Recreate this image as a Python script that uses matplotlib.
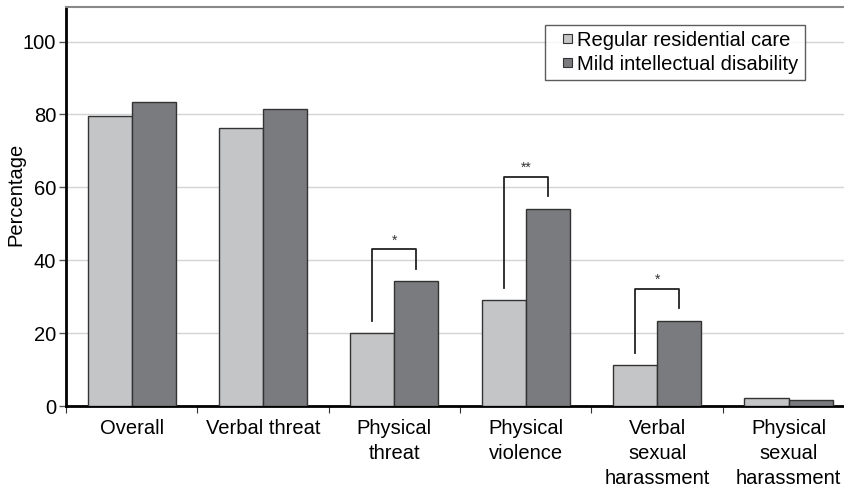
import numpy as np
import matplotlib
matplotlib.use("Agg")
import matplotlib.pyplot as plt
from matplotlib.ticker import FixedLocator
from matplotlib.patches import Rectangle
from matplotlib.legend_handler import HandlerPatch

plt.rcParams["font.family"] = ["Liberation Sans", "DejaVu Sans"]

# Datos
categories = ["Overall", "Verbal threat", "Physical\nthreat", "Physical\nviolence",
              "Verbal\nsexual\nharassment", "Physical\nsexual\nharassment"]
regular = [79.5, 76.2, 20.1, 29.1, 11.2, 2.2]
mild = [83.4, 81.6, 34.3, 54.2, 23.5, 1.6]
series_names = ["Regular residential care", "Mild intellectual disability"]
# comparaciones significativas: (indice, etiqueta)
signif = [(2, "*"), (3, "**"), (4, "*")]

light = "#c4c5c7"
dark = "#7a7b7f"
edge = "#333333"


def small_square(legend, orig_handle, xdescent, ydescent, width, height, fontsize):
    # cuadrado pequeño pegado al texto
    s = 0.45 * fontsize
    return Rectangle((width - s - xdescent, (height - s) / 2 - ydescent), s, s)


fig = plt.figure(figsize=(8.45, 4.9), dpi=100)
ax = fig.add_axes([0.078, 0.171, 0.922, 0.815])

x = np.arange(len(categories))
w = 0.335
ax.bar(x - w / 2, regular, w, color=light, edgecolor=edge, linewidth=1.0, zorder=3)
ax.bar(x + w / 2, mild, w, color=dark, edgecolor=edge, linewidth=1.0, zorder=3)

# Corchetes de significancia
for i, s in signif:
    top = mild[i] + 8.7
    xl, xr = x[i] - w / 2, x[i] + w / 2
    ax.plot([xl, xl, xr, xr], [regular[i] + 3.4, top, top, mild[i] + 3.4],
            color="#222222", lw=1.3, zorder=4)
    ax.text(x[i], top + 0.5, s, ha="center", va="bottom", fontsize=10, color="#333333")

ax.set_xlim(-0.5, 5.43)
ax.set_ylim(0, 109.5)
ax.set_yticks([0, 20, 40, 60, 80, 100])
ax.yaxis.grid(True, color="#d4d4d4", lw=1.0, zorder=0)
ax.set_axisbelow(True)
ax.tick_params(axis="y", labelsize=14.5, length=5, width=1.0, color="#555555",
               direction="out", pad=2)
ax.set_ylabel("Percentage", fontsize=14.5)
ax.yaxis.set_label_coords(-0.0526, 0.531)

ax.set_xticks(x)
ax.set_xticklabels(categories, fontsize=14.5, linespacing=1.4)
ax.tick_params(axis="x", which="major", length=0, pad=9)
ax.xaxis.set_minor_locator(FixedLocator(np.arange(-0.5, 5.6, 1.0)))
ax.tick_params(axis="x", which="minor", length=5, width=0.8, color="#333333")

ax.spines["left"].set_linewidth(2.0)
ax.spines["bottom"].set_linewidth(2.0)
ax.spines["top"].set_color("#888888")
ax.spines["top"].set_linewidth(1.5)
ax.spines["right"].set_visible(False)

handles = [Rectangle((0, 0), 1, 1, facecolor=c, edgecolor=edge, linewidth=0.8)
           for c in (light, dark)]
leg = ax.legend(handles, series_names, loc="upper left", bbox_to_anchor=(0.615, 0.955),
                fontsize=14.5, frameon=True, fancybox=False, edgecolor="#333333",
                handlelength=1.05, handleheight=0.7, handletextpad=0.25,
                borderpad=0.3, labelspacing=0.25, borderaxespad=0,
                handler_map={Rectangle: HandlerPatch(patch_func=small_square)})
leg.get_frame().set_linewidth(1.0)

fig.savefig("out.png", dpi=100)
